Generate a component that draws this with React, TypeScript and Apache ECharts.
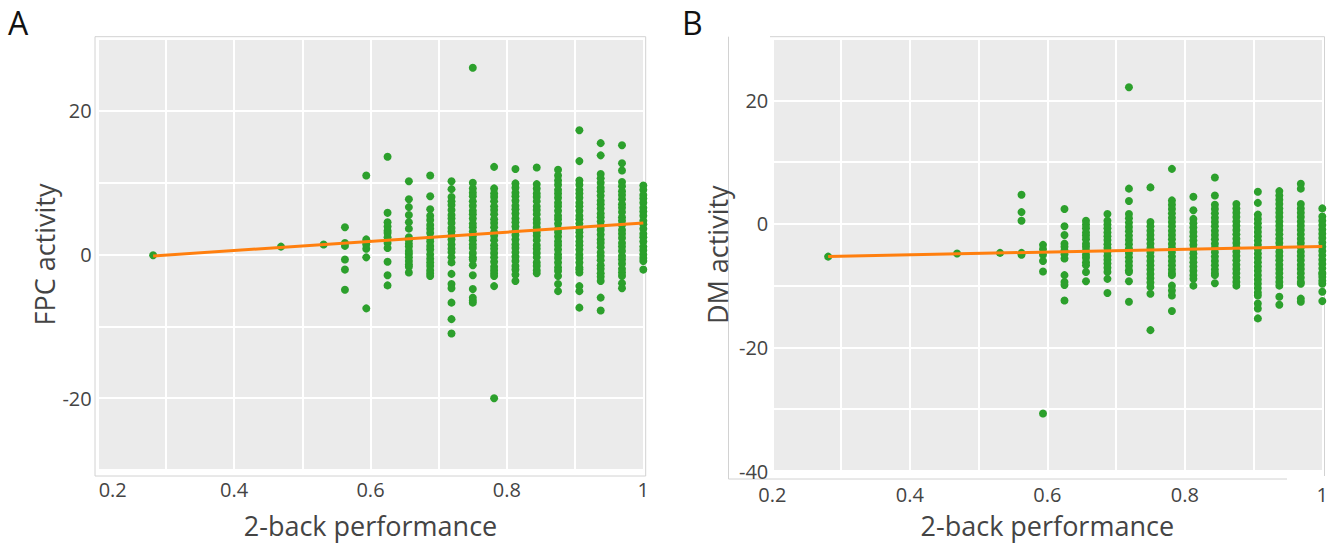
import React, { useEffect, useRef } from "react";
import * as echarts from "echarts";

// 2-back performance levels (columns of points)
const perfLevels = [
  0.28125, 0.46875, 0.53125, 0.5625, 0.59375, 0.625, 0.65625, 0.6875, 0.71875,
  0.75, 0.78125, 0.8125, 0.84375, 0.875, 0.90625, 0.9375, 0.96875, 1.0,
];

// FPC activity values per performance level (panel A)
const fpcValues: number[][] = [
  [-0.1],
  [1.1],
  [1.4],
  [3.8, 1.6, 1.2, -0.7, -2.1, -4.9],
  [11.0, 2.1, 1.7, 1.4, 0.8, -0.4, -7.5],
  [13.6, 5.8, 4.5, 3.9, 3.3, 3.0, 2.4, 1.6, 0.9, -1.0, -2.9, -4.3],
  [10.2, 7.7, 6.6, 5.5, 4.5, 3.6, 2.4, 2.0, 1.5, 1.1, 0.5, 0.1, -0.4, -0.9, -1.4, -1.7, -2.5],
  [11.0, 8.1, 6.3, 5.4, 4.8, 4.1, 3.6, 3.0, 2.3, 1.8, 1.2, 0.7, 0.0, -0.6, -1.1, -1.6, -2.2, -2.6, -3.0],
  [10.2, 9.1, 8.0, 7.4, 6.9, 6.2, 5.5, 5.0, 4.4, 3.7, 3.2, 2.6, 2.1, 1.4, 0.8, 0.3, -0.4, -1.1, -2.7, -4.1, -4.7, -6.7, -9.0, -11.0],
  [26.0, 10.0, 9.2, 8.6, 8.1, 7.4, 6.8, 6.1, 5.6, 5.0, 4.3, 3.8, 3.2, 2.5, 2.0, 1.4, 0.9, 0.2, -0.4, -0.7, -1.5, -2.9, -4.8, -6.0, -6.4, -6.7],
  [12.2, 9.2, 8.5, 8.0, 7.4, 6.7, 6.2, 5.6, 4.9, 4.4, 3.8, 3.1, 2.6, 2.0, 1.3, 0.8, 0.2, -0.4, -1.0, -1.7, -2.2, -2.6, -3.0, -4.4, -20.0],
  [11.9, 9.9, 9.3, 8.6, 8.1, 7.5, 6.8, 6.3, 5.7, 5.0, 4.5, 3.9, 3.2, 2.7, 2.1, 1.4, 0.9, 0.3, -0.3, -0.9, -1.6, -2.1, -2.8, -3.7],
  [12.1, 9.8, 9.2, 8.5, 8.0, 7.4, 6.7, 6.2, 5.6, 4.9, 4.4, 3.8, 3.1, 2.6, 2.0, 1.3, 0.8, 0.2, -0.4, -1.1, -1.6, -2.2, -2.6],
  [11.8, 11.0, 10.3, 9.7, 9.0, 8.5, 7.9, 7.2, 6.7, 6.1, 5.4, 4.9, 4.3, 3.6, 3.1, 2.5, 1.8, 1.3, 0.7, 0.0, -0.5, -1.1, -1.8, -2.3, -3.0, -4.1, -5.1],
  [17.3, 13.0, 10.3, 9.7, 9.0, 8.5, 7.9, 7.2, 6.7, 6.1, 5.4, 4.9, 4.3, 3.6, 3.1, 2.5, 1.8, 1.3, 0.7, 0.0, -0.5, -1.1, -1.8, -2.1, -2.5, -4.4, -5.1, -7.4],
  [15.5, 13.8, 11.2, 10.6, 10.0, 9.3, 8.8, 8.2, 7.5, 7.0, 6.4, 5.7, 5.2, 4.6, 3.9, 3.4, 2.8, 2.1, 1.6, 1.0, 0.3, -0.2, -0.8, -1.5, -2.0, -2.6, -3.1, -3.7, -6.0, -7.8],
  [15.2, 12.7, 11.7, 10.1, 9.5, 8.8, 8.3, 7.7, 7.0, 6.5, 5.9, 5.2, 4.7, 4.1, 3.4, 2.9, 2.3, 1.6, 1.1, 0.5, -0.2, -0.7, -1.3, -2.0, -2.5, -3.0, -4.0, -4.7],
  [9.6, 9.0, 8.3, 7.8, 7.2, 6.5, 6.0, 5.4, 4.7, 4.2, 3.6, 2.9, 2.4, 1.8, 1.1, 0.6, 0.0, -0.5, -0.9, -2.1],
];

// DM activity values per performance level (panel B)
const dmValues: number[][] = [
  [-5.3],
  [-4.8],
  [-4.7],
  [4.7, 1.9, 0.5, -4.7, -5.0],
  [-3.4, -4.1, -5.0, -6.0, -7.7, -30.7],
  [2.4, -0.4, -1.8, -3.2, -3.7, -4.3, -4.9, -5.6, -8.3, -9.4, -9.9, -12.4],
  [0.5, -0.1, -0.7, -1.4, -1.9, -2.5, -3.2, -3.7, -4.3, -5.0, -5.5, -6.2, -6.7, -7.8, -9.3],
  [1.6, 0.5, -0.1, -0.7, -1.4, -2.0, -2.6, -3.3, -3.9, -4.5, -5.2, -5.8, -6.4, -7.1, -7.8, -8.9, -11.2],
  [22.1, 5.7, 3.7, 1.6, 0.9, 0.2, -0.5, -1.2, -1.9, -2.6, -3.3, -4.0, -4.7, -5.4, -6.1, -6.8, -7.5, -7.8, -9.3, -12.6],
  [5.9, 0.3, -0.4, -1.1, -1.8, -2.5, -3.2, -3.9, -4.6, -5.3, -6.0, -6.7, -7.4, -8.1, -8.8, -9.5, -10.2, -11.3, -17.2],
  [8.9, 3.8, 3.1, 2.4, 1.7, 1.0, 0.3, -0.4, -1.1, -1.8, -2.5, -3.2, -3.9, -4.6, -5.3, -6.0, -6.7, -7.4, -8.0, -8.3, -10.0, -10.8, -11.6, -14.1],
  [4.4, 2.2, 0.8, 0.1, -0.6, -1.3, -2.0, -2.7, -3.4, -4.1, -4.8, -5.5, -6.2, -6.9, -7.6, -8.3, -8.9, -10.0],
  [7.5, 4.6, 3.1, 2.4, 1.7, 1.0, 0.3, -0.4, -1.1, -1.8, -2.5, -3.2, -3.9, -4.6, -5.3, -6.0, -6.7, -7.4, -8.0, -8.3, -9.6],
  [3.2, 2.5, 1.8, 1.1, 0.4, -0.3, -1.0, -1.7, -2.4, -3.1, -3.8, -4.5, -5.2, -5.9, -6.6, -7.3, -8.0, -8.7, -9.4, -10.0],
  [5.2, 3.4, 1.5, 0.8, 0.1, -0.6, -1.3, -2.0, -2.7, -3.4, -4.1, -4.8, -5.5, -6.2, -6.9, -7.6, -8.3, -9.0, -9.7, -10.4, -11.1, -11.6, -12.9, -13.7, -15.3],
  [5.3, 4.6, 3.9, 3.2, 2.5, 1.8, 1.1, 0.4, -0.3, -1.0, -1.7, -2.4, -3.1, -3.8, -4.5, -5.2, -5.9, -6.6, -7.3, -8.0, -8.7, -9.4, -10.0, -11.8, -13.1],
  [6.5, 5.7, 3.2, 2.5, 1.8, 1.1, 0.4, -0.3, -1.0, -1.7, -2.4, -3.1, -3.8, -4.5, -5.2, -5.9, -6.6, -7.3, -8.0, -8.7, -9.4, -9.7, -12.1, -12.6],
  [2.5, 1.2, 0.5, -0.2, -0.9, -1.6, -2.3, -3.0, -3.7, -4.4, -5.1, -5.8, -6.5, -7.2, -7.9, -8.1, -8.6, -9.2, -9.7, -11.0, -12.5],
];

// Fitted regression lines (endpoints)
const fitX = [0.28125, 1.0];
const fpcFitY = [-0.2, 4.4];
const dmFitY = [-5.28, -3.65];

// Tick labels
const xTickLabels: Record<number, string> = { 2: "0.2", 4: "0.4", 6: "0.6", 8: "0.8", 10: "1" };

const FONT = "'Open Sans', 'Noto Sans', sans-serif";
const GREEN = "#2ca02c";
const ORANGE = "#ff7f0e";
const TXT = "#444";

function toPoints(vals: number[][]) {
  const out: number[][] = [];
  perfLevels.forEach((x, i) => vals[i].forEach((y) => out.push([x, y])));
  return out;
}

export default function App() {
  const ref = useRef<HTMLDivElement>(null);

  useEffect(() => {
    if (!ref.current) return;
    const chart = echarts.init(ref.current, undefined, { renderer: "svg" });

    const xAxisBase = (gridIndex: number, margin: number, nameGap: number, shiftFirst: boolean) => ({
      type: "value",
      gridIndex,
      min: 0.2,
      max: 1.0,
      interval: 0.1,
      axisLine: { show: false },
      axisTick: { show: false },
      splitLine: { show: true, lineStyle: { color: "#ffffff", width: 2 } },
      axisLabel: {
        fontSize: 20,
        color: TXT,
        fontFamily: FONT,
        margin,
        lineHeight: 20,
        formatter: (v: number) => {
          const k = Math.round(v * 10);
          const s = xTickLabels[k];
          if (!s) return "";
          if (k === 2 && shiftFirst) return "{s|" + s + "}";
          return s;
        },
        rich: { s: { fontSize: 20, color: TXT, fontFamily: FONT, lineHeight: 20, padding: [0, 0, 0, 30] } },
      },
      name: "2-back performance",
      nameLocation: "middle",
      nameGap,
      nameTextStyle: { fontSize: 27, color: TXT, fontFamily: FONT, lineHeight: 27 },
    });

    const yAxisBase = (gridIndex: number, min: number, max: number, name: string, margin: number, nameGap: number) => ({
      type: "value",
      gridIndex,
      min,
      max,
      interval: 10,
      axisLine: { show: false },
      axisTick: { show: false },
      splitLine: { show: true, lineStyle: { color: "#ffffff", width: 2 } },
      axisLabel: {
        fontSize: 20,
        color: TXT,
        fontFamily: FONT,
        margin,
        formatter: (v: number) => (Math.round(v) % 20 === 0 ? String(Math.round(v)) : ""),
      },
      name,
      nameLocation: "middle",
      nameGap,
      nameTextStyle: { fontSize: 27, color: TXT, fontFamily: FONT },
    });

    const frame = { stroke: "#d2d2d2", lineWidth: 1 };

    chart.setOption({
      animation: false,
      backgroundColor: "#ffffff",
      grid: [
        { left: 97.7, top: 39, width: 545.6, height: 434.3, show: true, backgroundColor: "#ebebeb", borderWidth: 0 },
        { left: 772.3, top: 38.5, width: 550, height: 436, show: true, backgroundColor: "#ebebeb", borderWidth: 0 },
      ],
      xAxis: [xAxisBase(0, 9, 42, true), xAxisBase(1, 13, 41, false)],
      yAxis: [
        yAxisBase(0, -30, 30, "FPC activity", 6, 38),
        yAxisBase(1, -40, 30, "DM activity", 4, 41),
      ],
      series: [
        {
          type: "scatter",
          xAxisIndex: 0,
          yAxisIndex: 0,
          data: toPoints(fpcValues),
          symbolSize: 8,
          itemStyle: { color: GREEN, opacity: 1 },
          z: 2,
        },
        {
          type: "line",
          xAxisIndex: 0,
          yAxisIndex: 0,
          data: fitX.map((x, i) => [x, fpcFitY[i]]),
          showSymbol: false,
          lineStyle: { color: ORANGE, width: 3 },
          z: 3,
        },
        {
          type: "scatter",
          xAxisIndex: 1,
          yAxisIndex: 1,
          data: toPoints(dmValues),
          symbolSize: 8,
          itemStyle: { color: GREEN, opacity: 1 },
          z: 2,
        },
        {
          type: "line",
          xAxisIndex: 1,
          yAxisIndex: 1,
          data: fitX.map((x, i) => [x, dmFitY[i]]),
          showSymbol: false,
          lineStyle: { color: ORANGE, width: 3 },
          z: 3,
        },
      ],
      graphic: [
        { type: "text", x: 8, y: 22, style: { text: "A", font: `32px ${FONT}`, fill: "#111", verticalAlign: "middle", lineHeight: 32 } },
        { type: "text", x: 682, y: 22, style: { text: "B", font: `32px ${FONT}`, fill: "#111", verticalAlign: "middle", lineHeight: 32 } },
        { type: "rect", silent: true, shape: { x: 95, y: 36.7, width: 650.7 - 95 - 5, height: 439.3 }, style: { fill: "none", ...frame } },
        { type: "line", silent: true, shape: { x1: 728.5, y1: 36.7, x2: 728.5, y2: 479 }, style: frame },
        { type: "line", silent: true, shape: { x1: 728.5, y1: 479, x2: 1287, y2: 479 }, style: frame },
        { type: "line", silent: true, shape: { x1: 770, y1: 36.7, x2: 1324.5, y2: 36.7 }, style: frame },
        { type: "line", silent: true, shape: { x1: 1324.5, y1: 36.7, x2: 1324.5, y2: 476 }, style: frame },
      ],
    });

    return () => chart.dispose();
  }, []);

  return (
    <div
      ref={ref}
      style={{ position: "fixed", left: 0, top: 0, width: 1338, height: 544, background: "#fff" }}
    />
  );
}
